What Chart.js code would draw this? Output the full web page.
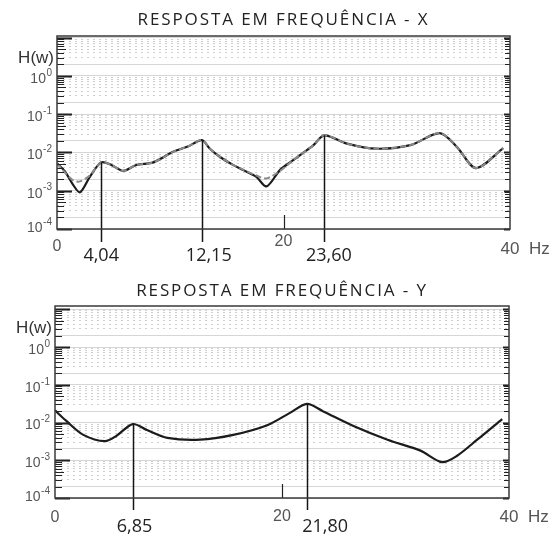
<!DOCTYPE html>
<html><head><meta charset="utf-8">
<script src="https://cdn.jsdelivr.net/npm/chart.js@4"></script>
<style>
html,body{margin:0;padding:0;background:#fff;}
#w1{position:absolute;left:0;top:0;width:554px;height:268px;}
#w2{position:absolute;left:0;top:268px;width:554px;height:270px;}
</style></head><body>
<div id="w1"><canvas id="c1"></canvas></div>
<div id="w2"><canvas id="c2"></canvas></div>
<script>
// ---------- data ----------
const titleX = 'RESPOSTA EM FREQUÊNCIA - X';
const titleY = 'RESPOSTA EM FREQUÊNCIA - Y';
const yAxisLabel = 'H(w)';
const xTickValues = [0, 20, 40];
const xTickLabels = ['0', '20', '40'];
const xUnit = 'Hz';
const decadeExponents = [0, -1, -2, -3, -4];

const freqX = [0, 0.7, 1.44, 2.03, 2.9, 3.9, 4.8, 5.85, 7.0, 8.5, 10.3, 11.6, 12.8, 13.5, 14.4, 15.5, 16.4, 17.6, 18.5, 19.7, 20.7, 21.7, 22.6, 23.6, 25.6, 28.2, 31.2, 33.8, 35.3, 37.0, 39.4];
const respX = [5.2e-3, 3.2e-3, 1.4e-3, 9.1e-4, 2.3e-3, 5.5e-3, 4.7e-3, 3.3e-3, 4.7e-3, 5.5e-3, 1.05e-2, 1.45e-2, 2.1e-2, 1.25e-2, 7.6e-3, 4.8e-3, 3.5e-3, 2.3e-3, 1.3e-3, 3.5e-3, 5.8e-3, 9.6e-3, 1.5e-2, 2.8e-2, 1.7e-2, 1.25e-2, 1.55e-2, 3.2e-2, 1.4e-2, 3.9e-3, 1.3e-2];
const fitX  = [5.2e-3, 3.0e-3, 1.85e-3, 1.75e-3, 2.5e-3, 5.5e-3, 4.7e-3, 3.3e-3, 4.7e-3, 5.5e-3, 1.05e-2, 1.45e-2, 2.1e-2, 1.25e-2, 7.6e-3, 4.8e-3, 3.6e-3, 2.5e-3, 2.1e-3, 3.3e-3, 5.8e-3, 9.6e-3, 1.5e-2, 2.8e-2, 1.7e-2, 1.25e-2, 1.55e-2, 3.2e-2, 1.4e-2, 3.9e-3, 1.3e-2];

const peakFreqX = [3.9, 12.8, 23.6];
const peakRespX = [5.5e-3, 2.1e-2, 2.8e-2];
const peakLabelsX = ['4,04', '12,15', '23,60'];
const peakLabelFreqX = [3.9, 13.4, 24.0];

const freqY = [0, 1.0, 2.5, 4.4, 5.4, 6.85, 8.1, 9.9, 12.8, 15.7, 18.7, 20.7, 22.2, 23.6, 26.3, 29.3, 32.2, 34.1, 35.4, 37.2, 39.4];
const respY = [2.1e-2, 1.1e-2, 4.7e-3, 3.2e-3, 4.4e-3, 9.1e-3, 6.3e-3, 3.9e-3, 3.5e-3, 4.7e-3, 8.5e-3, 1.8e-2, 3.1e-2, 2.0e-2, 8.1e-3, 3.5e-3, 1.8e-3, 8.9e-4, 1.3e-3, 3.5e-3, 1.23e-2];

const peakFreqY = [6.85, 22.2];
const peakRespY = [9.1e-3, 3.1e-2];
const peakLabelsY = ['6,85', '21,80'];
const peakLabelFreqY = [7.0, 23.8];

// ---------- helpers ----------
function pts(xs, ys) { return xs.map((x, i) => ({x: x, y: ys[i]})); }
function mant(v) { const e = Math.floor(Math.log10(v) + 1e-9); return v / Math.pow(10, e); }

const spacingPlugin = {
  id: 'spacing',
  beforeDraw(chart) { chart.ctx.letterSpacing = '1.9px'; },
  beforeDatasetsDraw(chart) { chart.ctx.letterSpacing = '0px'; }
};

const decorPlugin = {
  id: 'decor',
  afterDatasetsDraw(chart, args, o) {
    const {ctx, chartArea: a, scales} = chart;
    const xs = scales.x, ys = scales.y;
    ctx.save();
    ctx.letterSpacing = '0px';
    // peak marker lines
    ctx.strokeStyle = '#151515'; ctx.lineWidth = 1.5;
    o.peakFreq.forEach((f, i) => {
      const px = Math.round(xs.getPixelForValue(f)) + 0.5;
      ctx.beginPath();
      ctx.moveTo(px, ys.getPixelForValue(o.peakResp[i]));
      ctx.lineTo(px, a.bottom + o.lineExt);
      ctx.stroke();
    });
    // inner ticks left & right
    ctx.strokeStyle = '#222';
    for (let e = -4; e <= 1; e++) {
      for (let k = 1; k <= 9; k++) {
        const v = k * Math.pow(10, e);
        if (v < ys.min || v > ys.max) continue;
        const py = Math.round(ys.getPixelForValue(v)) + 0.5;
        const major = k === 1;
        ctx.lineWidth = major ? 2.2 : 1;
        const lenL = major ? 15 : (k === 5 ? 9 : 7);
        const lenR = major ? 6 : 5;
        ctx.beginPath();
        ctx.moveTo(a.left, py); ctx.lineTo(a.left + lenL, py);
        ctx.moveTo(a.right, py); ctx.lineTo(a.right - lenR, py);
        ctx.stroke();
      }
    }
    // 20 Hz tick
    ctx.lineWidth = 1.2;
    const p20 = Math.round(xs.getPixelForValue(xTickValues[1])) + 0.5;
    ctx.beginPath(); ctx.moveTo(p20, a.bottom); ctx.lineTo(p20, a.bottom - 14); ctx.stroke();
    // frame
    ctx.strokeStyle = '#3a3a3a'; ctx.lineWidth = 1.5;
    ctx.strokeRect(a.left, a.top, a.right - a.left, a.bottom - a.top);
    // y labels
    ctx.fillStyle = '#555';
    ctx.textBaseline = 'middle';
    decadeExponents.forEach(e => {
      let py = ys.getPixelForValue(Math.pow(10, e)) + 3;
      if (e === -4) py -= 4;
      const base = '10';
      ctx.font = '14px "Liberation Sans", Arial, sans-serif';
      const bw = ctx.measureText(base).width;
      const expStr = String(e);
      ctx.font = '10px "Liberation Sans", Arial, sans-serif';
      const ew = ctx.measureText(expStr).width;
      const right = a.left - 5;
      ctx.textAlign = 'left';
      ctx.fillText(expStr, right - ew, py - 6);
      ctx.font = '14px "Liberation Sans", Arial, sans-serif';
      ctx.fillText(base, right - ew - bw - 0.5, py);
    });
    // H(w)
    ctx.fillStyle = '#333';
    ctx.font = '17px "Liberation Sans", Arial, sans-serif';
    ctx.textAlign = 'right';
    ctx.fillText(yAxisLabel, a.left - 3, ys.getPixelForValue(Math.pow(10, 0)) - o.hwOff);
    // x labels
    ctx.fillStyle = '#555';
    xTickValues.forEach((v, i) => {
      const px = xs.getPixelForValue(v);
      const ty = a.bottom + o.xLabOff[i];
      if (i === xTickValues.length - 1) {
        ctx.font = '17px "Liberation Sans", Arial, sans-serif';
        const w40 = ctx.measureText(xTickLabels[i]).width;
        ctx.textAlign = 'left';
        ctx.fillText(xTickLabels[i] + '  ' + xUnit, px - w40 / 2, ty);
      } else {
        ctx.font = '16px "Liberation Sans", Arial, sans-serif';
        ctx.textAlign = 'center';
        ctx.fillText(xTickLabels[i], px, ty);
      }
    });
    // peak labels
    ctx.fillStyle = '#222';
    ctx.font = '18px "Open Sans", sans-serif';
    ctx.textAlign = 'center';
    o.peakLabels.forEach((t, i) => {
      ctx.fillText(t, xs.getPixelForValue(o.peakLabelFreq[i]), a.bottom + o.peakLabOff);
    });
    ctx.restore();
  }
};

function makeChart(id, title, datasets, yMax, pad, titlePad, decor) {
  return new Chart(document.getElementById(id), {
    type: 'line',
    data: {datasets: datasets},
    options: {
      responsive: true, maintainAspectRatio: false, animation: false,
      layout: {padding: pad},
      plugins: {
        legend: {display: false}, tooltip: {enabled: false},
        title: {display: true, text: title, color: '#222',
          font: {family: '"Open Sans", sans-serif', size: 17, weight: 'normal', lineHeight: 1.2},
          padding: titlePad},
        decor: decor
      },
      elements: {point: {radius: 0}},
      scales: {
        x: {type: 'linear', min: 0, max: 40,
          ticks: {display: false}, grid: {display: false, drawTicks: false},
          border: {display: false},
          afterFit: s => { s.height = 0; }},
        y: {type: 'logarithmic', min: 1e-4, max: yMax,
          ticks: {display: false},
          grid: {drawTicks: false, lineWidth: 1,
            color: c => {
              if (!c.tick) return 'transparent';
              const m = mant(c.tick.value);
              if (Math.abs(m - Math.round(m)) > 1e-6) return 'transparent';
              if (Math.round(m) <= 2 || Math.round(m) === 10) return '#d6d6d6';
              return '#cfcfcf';
            }},
          border: {display: false,
            dash: c => {
              if (!c || !c.tick) return [];
              const m = Math.round(mant(c.tick.value));
              return (m <= 2 || m === 10) ? [] : [2, 4];
            }},
          afterFit: s => { s.width = 0; }}
      }
    },
    plugins: [spacingPlugin, decorPlugin]
  });
}

makeChart('c1', titleX, [
  {data: pts(freqX, fitX), borderColor: '#8a8a8a', borderWidth: 2, borderDash: [6, 3], tension: 0.3, fill: false},
  {data: pts(freqX, respX), borderColor: '#1c1c1c', borderWidth: 2.2, tension: 0.3, fill: false}
], 11, {left: 57, right: 44, top: 0, bottom: 39}, {top: 10, bottom: 5.6},
  {peakFreq: peakFreqX, peakResp: peakRespX, peakLabels: peakLabelsX, peakLabelFreq: peakLabelFreqX,
   lineExt: 13, peakLabOff: 27, xLabOff: [18, 13, 20], hwOff: 18});

makeChart('c2', titleY, [
  {data: pts(freqY, respY), borderColor: '#1c1c1c', borderWidth: 2.2, tension: 0.3, fill: false}
], 12.2, {left: 55, right: 45, top: 0, bottom: 40}, {top: 12.5, bottom: 5.1},
  {peakFreq: peakFreqY, peakResp: peakRespY, peakLabels: peakLabelsY, peakLabelFreq: peakLabelFreqY,
   lineExt: 12, peakLabOff: 29, xLabOff: [20, 19, 19], hwOff: 19});
</script>
</body></html>
